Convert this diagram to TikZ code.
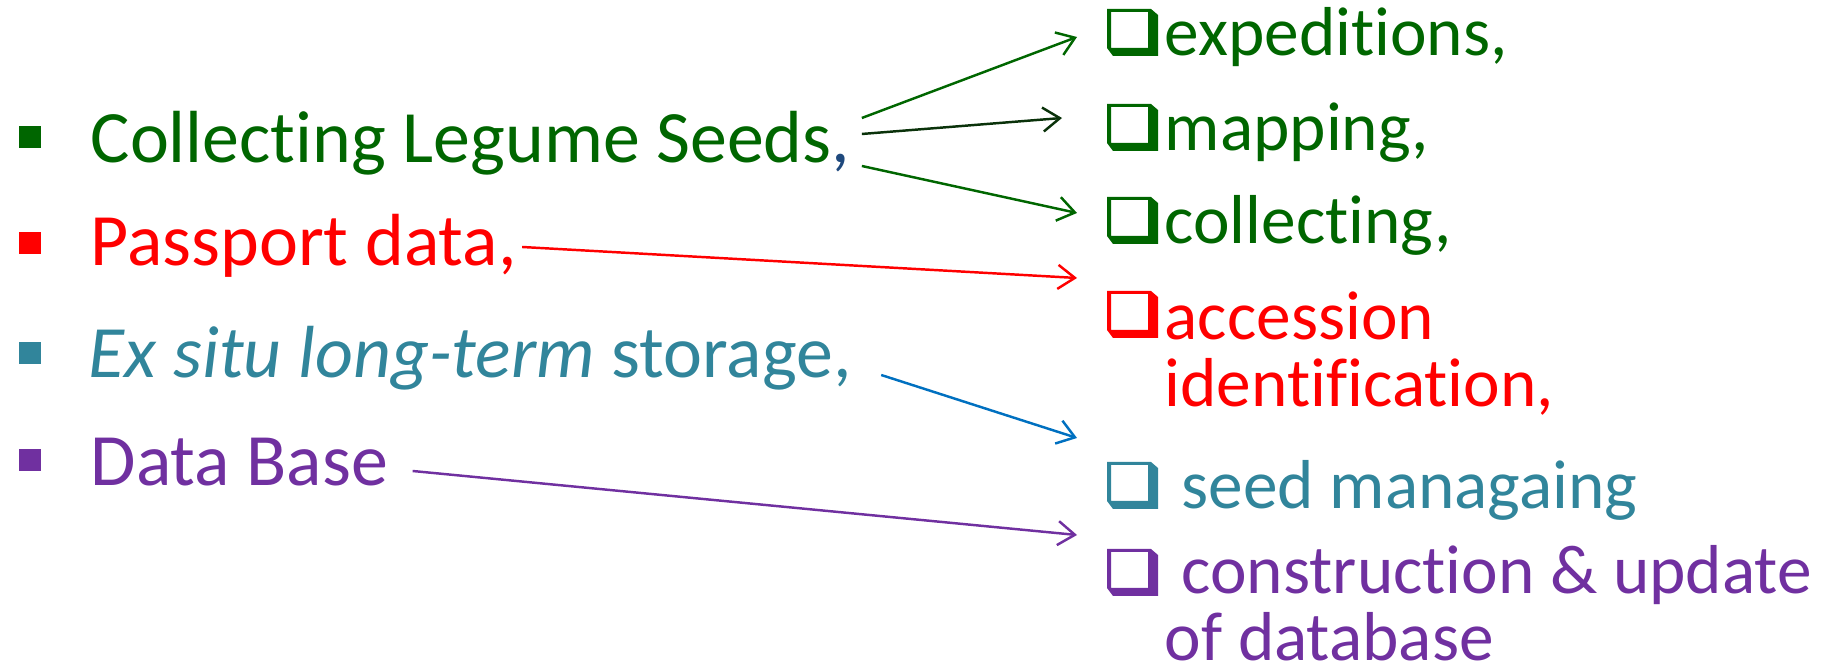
\documentclass[tikz,border=0pt]{standalone}
\usepackage{fontspec}
\setmainfont{Carlito}[Ligatures={NoCommon}]
\usetikzlibrary{arrows.meta}
\definecolor{cgreen}{RGB}{0,102,0}
\definecolor{cdark}{RGB}{10,50,10}
\definecolor{cnavy}{RGB}{31,73,125}
\definecolor{cteal}{RGB}{49,133,155}
\definecolor{cpurple}{RGB}{112,48,160}
\definecolor{cblue}{RGB}{0,112,192}

\tikzset{
  bul/.style={fill, minimum size=0.22cm, inner sep=0pt},
  lhs/.style={anchor=base west, inner sep=0pt, font=\fontsize{21}{25}\selectfont},
  rhs/.style={anchor=base west, inner sep=0pt, align=left, font=\fontsize{19.7}{19.1}\selectfont},
  chk/.style={minimum width=0.51cm, minimum height=0.47cm, inner sep=0pt},
  arr/.style={-{Straight Barb[length=1.7mm,width=2.4mm]}, line width=0.7pt}
}

% shadowed check box: name, base-left point, colour
\newcommand\chkbox[3]{%
  \node[chk, anchor=south west] (#1) at #2 {};
  \fill[#3, even odd rule] (#1.south west) ++(0,-8) -- ++(0,-39) -- ++(44,0) -- ++(7,6)
    -- ++(0,41) -- ++(-45,0) -- cycle
    (#1.south west) ++(4,-8) rectangle ++(37,-36);
}

\begin{document}
\begin{tikzpicture}[x=0.01cm,y=-0.01cm]
\useasboundingbox (0,0) rectangle (1825,671);
% left list
\node[bul, cgreen] (b1) at (30,137) {};
\node[bul, red] (b2) at (30,243) {};
\node[bul, cteal] (b3) at (30,353) {};
\node[bul, cpurple] (b4) at (30,460) {};
\node[lhs, cgreen] (seeds) at (90,163) {Collecting Legume Seeds\textcolor{cnavy}{,}};
\node[lhs, red] (pass) at (90,266) {Passport data,};
\node[lhs, cteal] (store) at (88,378) {\textit{Ex situ long-term} storage,};
\node[lhs, cpurple] (dbase) at (90,486) {Data Base};
% right list
\chkbox{x1}{(1107,56)}{cgreen}
\chkbox{x2}{(1107,151)}{cgreen}
\chkbox{x3}{(1107,244)}{cgreen}
\chkbox{x4}{(1107,338)}{red}
\chkbox{x5}{(1107,509)}{cteal}
\chkbox{x6}{(1107,596)}{cpurple}
\node[rhs, cgreen] (exped) at (1164,56) {expeditions,};
\node[rhs, cgreen] (mapp) at (1164,151) {mapping,};
\node[rhs, cgreen] (coll) at (1164,244) {collecting,};
\node[rhs, red] (acc) at (1164,407) {accession\\identification,};
\node[rhs, cteal] (seedm) at (1181,509) {seed managaing};
\node[rhs, cpurple] (constr) at (1164,661) {\hspace*{0.17cm}construction \& update\\of database};
% arrows
\draw[arr, cgreen] ([shift={(11,-45)}]seeds.base east) -- ([shift={(-30,-19)}]x1.south west);
\draw[arr, cdark] ([shift={(11,-29)}]seeds.base east) -- ([shift={(-45,-33)}]x2.south west);
\draw[arr, cgreen] ([shift={(11,3)}]seeds.base east) -- ([shift={(-30,-31)}]x3.south west);
\draw[arr, red] ([shift={(5,-19)}]pass.base east) -- ([shift={(-30,-60)}]x4.south west);
\draw[arr, cblue] ([shift={(29,-3)}]store.base east) -- ([shift={(-30,-71)}]x5.south west);
\draw[arr, cpurple] ([shift={(24,-15)}]dbase.base east) -- ([shift={(-30,-61)}]x6.south west);
\end{tikzpicture}
\end{document}
